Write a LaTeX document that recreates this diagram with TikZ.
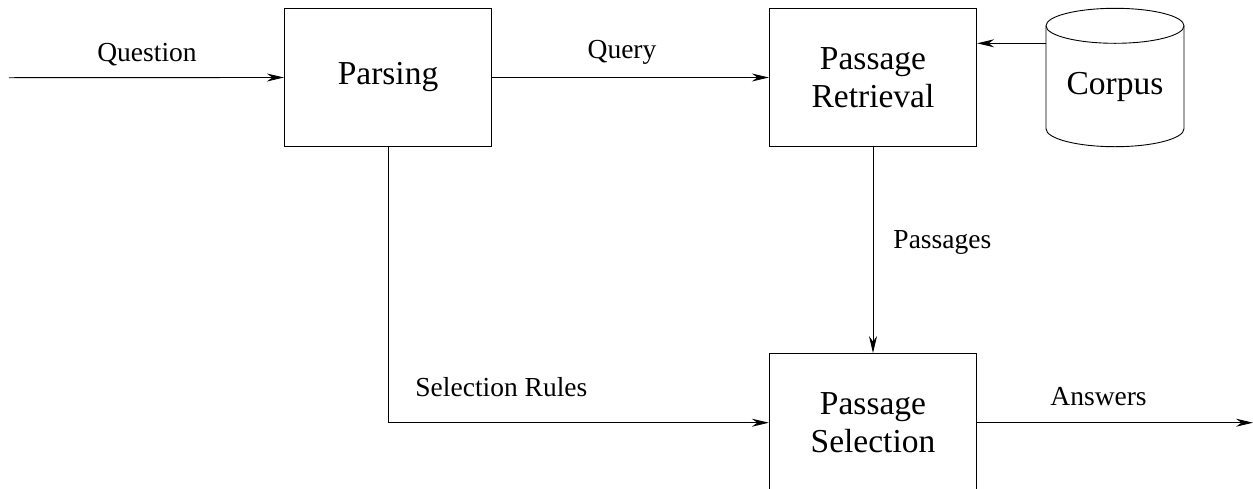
\documentclass[tikz,border=0pt]{standalone}
\usepackage{fontspec}
\setmainfont{LiberationSerif}[Extension=.ttf, UprightFont=*-Regular, BoldFont=*-Bold]
\usetikzlibrary{arrows.meta}

\begin{document}
\begin{tikzpicture}[x=1pt,y=-1pt,
  line width=0.9pt,
  flow/.style={-{Stealth[length=17pt,width=8pt]}},
  stage/.style={draw, rectangle, minimum width=207.4pt, minimum height=138.4pt,
    inner sep=0pt, align=center,
    font=\fontsize{33.5}{38.5}\selectfont},
  lbl/.style={inner sep=0pt, font=\fontsize{27.5}{32}\selectfont},
]
\useasboundingbox (0,0) rectangle (1253,488);

% processing stages
\node[stage] (parsing)   at (388,77.5)  {Parsing};
\node[stage] (retrieval) at (873,77.5)  {Passage\\Retrieval};
\node[stage] (selection) at (873,422.7) {Passage\\Selection};

% corpus store: cylinder outline with its label
\node[inner sep=0pt, font=\fontsize{33.5}{38.5}\selectfont] (corpus) at (1115,87) {Corpus};
\draw (1115,25.8) ellipse [x radius=69, y radius=17.5];
\draw (1046,25.8) -- (1046,128.7)
      arc [start angle=180, end angle=0, x radius=69, y radius=18]
      -- (1184,25.8);
\coordinate (corpus-out) at (1046,43.3);

% free ends
\coordinate (q-in)  at (9,77.7);
\coordinate (a-out) at (1253,422.7);

% connectors
\draw[flow] (q-in) -- (parsing.west);
\draw[flow] (parsing.east) -- (retrieval.west);
\draw[flow] (corpus-out) -- (retrieval.east |- corpus-out);
\draw[flow] (retrieval.south) -- (selection.north);
\draw[flow] (parsing.south) |- (selection.west);
\draw[flow] (selection.east) -- (a-out);

% connector labels
\node[lbl, anchor=base]      (l-question) at (147,61)   {Question};
\node[lbl, anchor=base]      (l-query)    at (622,58)   {Query};
\node[lbl, anchor=base west] (l-passages) at (893,248)  {Passages};
\node[lbl, anchor=base west] (l-rules)    at (415,396)  {Selection Rules};
\node[lbl, anchor=base west] (l-answers)  at (1050,405) {Answers};
\end{tikzpicture}
\end{document}
